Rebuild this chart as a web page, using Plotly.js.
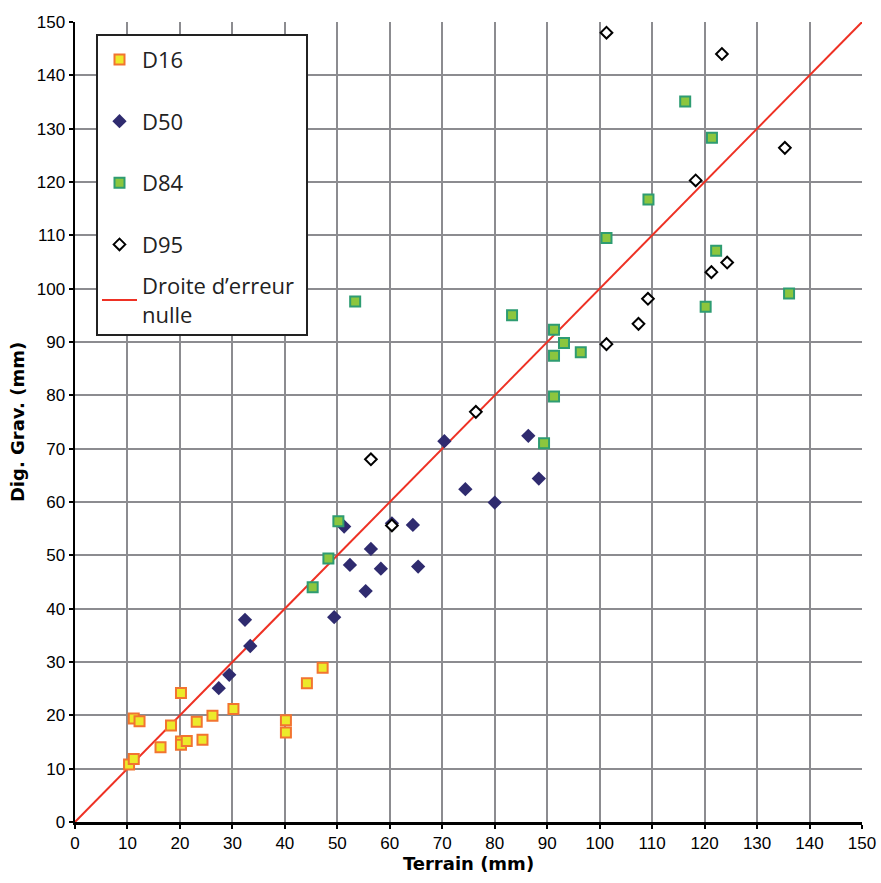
<!DOCTYPE html>
<html><head><meta charset="utf-8">
<script src="https://cdn.plot.ly/plotly-3.0.1.min.js"></script>
<style>body{margin:0;background:#fff}#c{width:881px;height:883px}</style>
</head><body><div id="c"></div>
<script>
const d16_x = [10.3, 11.2, 11.2, 12.3, 16.3, 18.3, 20.2, 20.2, 20.2, 21.3, 23.2, 24.3, 26.2, 30.2, 40.2, 40.2, 44.2, 47.2];
const d16_y = [10.8, 11.8, 19.4, 18.9, 14.0, 18.1, 24.2, 15.1, 14.5, 15.2, 18.8, 15.4, 19.9, 21.2, 19.1, 16.8, 26.0, 28.9];
const d50_x = [27.4, 29.4, 32.4, 33.4, 49.4, 51.3, 52.4, 55.4, 56.4, 58.3, 60.4, 64.4, 65.4, 70.4, 74.4, 80.0, 86.4, 88.4];
const d50_y = [25.1, 27.6, 37.9, 33.0, 38.4, 55.4, 48.2, 43.3, 51.2, 47.5, 56.0, 55.7, 47.9, 71.4, 62.4, 59.9, 72.4, 64.4];
const d84_x = [45.3, 48.3, 50.2, 53.4, 83.3, 89.4, 91.3, 91.3, 91.3, 93.2, 96.4, 101.3, 109.3, 116.3, 120.2, 121.4, 122.2, 136.1];
const d84_y = [44.0, 49.4, 56.4, 97.6, 95.0, 71.0, 92.3, 87.4, 79.8, 89.8, 88.1, 109.5, 116.7, 135.1, 96.6, 128.3, 107.1, 99.1];
const d95_x = [56.4, 60.4, 76.4, 101.3, 101.3, 107.4, 109.2, 118.3, 121.3, 123.3, 124.3, 135.3];
const d95_y = [68.0, 55.6, 76.9, 89.6, 148.0, 93.4, 98.1, 120.3, 103.1, 144.0, 104.9, 126.4];
const line_x = [0, 150];
const line_y = [0, 150];
const tickVals = [0,10,20,30,40,50,60,70,80,90,100,110,120,130,140,150];

const data = [
  {x: line_x, y: line_y, name: 'Droite d\u2019erreur<br>nulle', mode: 'lines', type: 'scatter',
   legend: 'legend2', line: {color: '#ee3124', width: 2}},
  {x: d16_x, y: d16_y, name: 'D16', mode: 'markers', type: 'scatter', legendgroup: 'a', legendrank: 1,
   marker: {symbol: 'square', size: 10, color: '#ecea2a', line: {color: '#f27430', width: 2}}},
  {x: d50_x, y: d50_y, name: 'D50', mode: 'markers', type: 'scatter', legendgroup: 'b', legendrank: 2,
   marker: {symbol: 'diamond', size: 11, color: '#2f2b6f', line: {color: '#2f2b6f', width: 0}}},
  {x: d84_x, y: d84_y, name: 'D84', mode: 'markers', type: 'scatter', legendgroup: 'c', legendrank: 3,
   marker: {symbol: 'square', size: 10, color: '#8cc63e', line: {color: '#2e9c72', width: 2}}},
  {x: d95_x, y: d95_y, name: 'D95', mode: 'markers', type: 'scatter', legendgroup: 'd', legendrank: 4,
   marker: {symbol: 'diamond', size: 9, color: '#ffffff', line: {color: '#000000', width: 2}}}
];

const tickFont = {family: '"Liberation Sans", Arial, sans-serif', size: 17, color: '#000'};
const titleFont = {family: '"DejaVu Sans", sans-serif', size: 18, color: '#000', weight: 'bold'};
const legFont = {family: '"Open Sans", "Noto Sans", sans-serif', size: 22, color: '#222'};
const axisCommon = {
  range: [0, 150], tickvals: tickVals, showgrid: true, gridcolor: '#8c8c90', gridwidth: 2,
  zeroline: false, showline: true, linecolor: '#000', linewidth: 2.5, ticks: 'outside', ticklen: 4,
  tickcolor: '#000', tickwidth: 2, tickfont: tickFont, fixedrange: true
};
const layout = {
  width: 881, height: 883,
  margin: {l: 75, r: 19, t: 22, b: 61},
  paper_bgcolor: '#fff', plot_bgcolor: '#fff',
  xaxis: Object.assign({}, axisCommon, {title: {text: 'Terrain (mm)', font: titleFont, standoff: 4}}),
  yaxis: Object.assign({}, axisCommon, {title: {text: 'Dig. Grav. (mm)', font: titleFont, standoff: 8}}),
  showlegend: true,
  shapes: [{type: 'rect', xref: 'paper', yref: 'paper', x0: 0.02795, x1: 0.2948, y0: 0.60875, y1: 0.98375,
    fillcolor: '#ffffff', line: {color: '#222', width: 2}, layer: 'above'}],
  legend: {x: 0.02795, y: 0.979, xanchor: 'left', yanchor: 'top', bgcolor: 'rgba(0,0,0,0)',
    borderwidth: 0, traceorder: 'grouped', tracegroupgap: 30, font: legFont, itemwidth: 35},
  legend2: {x: 0.02795, y: 0.69625, xanchor: 'left', yanchor: 'top', bgcolor: 'rgba(0,0,0,0)',
    borderwidth: 0, font: legFont, itemwidth: 35}
};
Plotly.newPlot('c', data, layout, {displayModeBar: false, staticPlot: true});
</script></body></html>
